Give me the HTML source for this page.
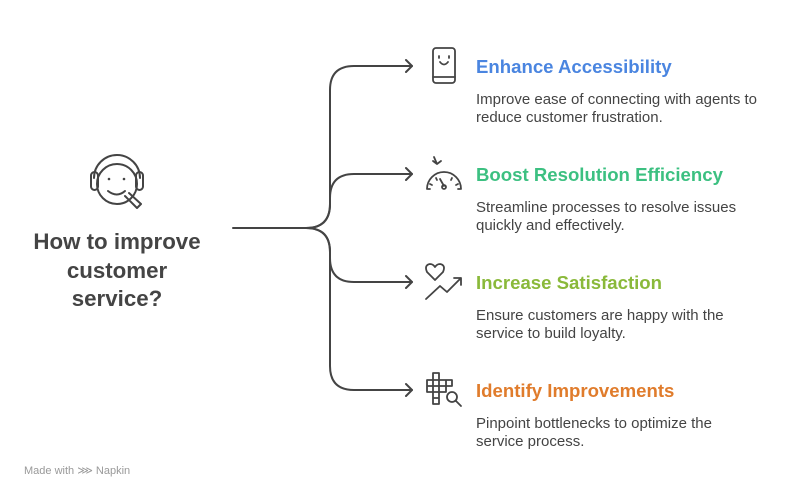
<!DOCTYPE html>
<html><head><style>
body{margin:0;width:798px;height:498px;background:#fff;font-family:"Liberation Sans",sans-serif;position:relative;overflow:hidden}
.t{position:absolute;left:476px;font-weight:bold;font-size:18.6px}
.d{position:absolute;left:476px;font-size:15px;color:#444;line-height:18px}
</style></head><body>
<svg width="798" height="498" style="position:absolute;left:0;top:0" fill="none" stroke="#444" stroke-width="2" stroke-linecap="round" stroke-linejoin="round">
<path d="M233 228 H306 Q330 228 330 204 V90 Q330 66 354 66 H412"/>
<path d="M306 228 Q330 228 330 204 V198 Q330 174 354 174 H412"/>
<path d="M306 228 Q330 228 330 252 V258 Q330 282 354 282 H412"/>
<path d="M306 228 Q330 228 330 252 V366 Q330 390 354 390 H412"/>
<path d="M406 60 L412 66 L406 72 M406 168 L412 174 L406 180 M406 276 L412 282 L406 288 M406 384 L412 390 L406 396"/>
<!-- headset -->
<g stroke-width="2">
<circle cx="117" cy="184" r="20"/>
<path d="M94 178 A23 23 0 0 1 140 178"/>
<rect x="91" y="172" width="7" height="18" rx="3.5"/>
<rect x="136" y="172" width="7" height="18" rx="3.5"/>
<path d="M108 191 Q117 198 125 191"/>
<path d="M125 196 L137 208 L141 204 L129 193"/>
</g>
<circle cx="109" cy="179" r="1.3" fill="#444" stroke="none"/>
<circle cx="124" cy="179" r="1.3" fill="#444" stroke="none"/>
<g stroke-width="1.8">
<rect x="433" y="48" width="22" height="35" rx="3"/>
<path d="M433 77 H455"/>
<path d="M440 62 Q444 67 448 62"/>
<path d="M439 56 V58 M449 56 V58"/>
<path d="M427 189 A17 17 0 0 1 461 189"/>
<path d="M434 157 L437 164 M433 161 L437 164 L441 161"/>
<path d="M440 179 L444 186"/>
<circle cx="444" cy="187" r="2"/>
<path d="M430 184 L432 185 M436 178 L437 180 M452 178 L451 180 M458 184 L456 185 M428 189 H430 M458 189 H460"/>
<path d="M435 280 L427 272 Q424 265 430 264 Q433 264 435 267 Q437 264 440 264 Q446 265 443 272 Z"/>
<path d="M426 299 L440 286 L447 292 L461 278 M454 278 H461 V285"/>
<path d="M433 373 H439 V404 H433 Z M427 380 H446 V392 H427 Z M427 386 H446 M446 380 H452 V386 H446 M433 398 H439"/>
<circle cx="452" cy="397" r="5"/>
<path d="M456 401 L461 406"/>
</g>
</svg>
<div style="position:absolute;left:17px;top:228px;width:200px;text-align:center;font-weight:bold;font-size:22.3px;color:#444;line-height:28.5px">How to improve<br>customer<br>service?</div>
<div class="t" style="top:56px;color:#4a85e0">Enhance Accessibility</div>
<div class="d" style="top:91px">Improve ease of connecting with agents to<br>reduce customer frustration.</div>
<div class="t" style="top:164px;color:#3cc081">Boost Resolution Efficiency</div>
<div class="d" style="top:199px">Streamline processes to resolve issues<br>quickly and effectively.</div>
<div class="t" style="top:272px;color:#8ab93a">Increase Satisfaction</div>
<div class="d" style="top:307px">Ensure customers are happy with the<br>service to build loyalty.</div>
<div class="t" style="top:380px;color:#e07c2c">Identify Improvements</div>
<div class="d" style="top:415px">Pinpoint bottlenecks to optimize the<br>service process.</div>
<div style="position:absolute;left:24px;top:464px;font-size:11px;color:#999">Made with ⋙ Napkin</div>
</body></html>
